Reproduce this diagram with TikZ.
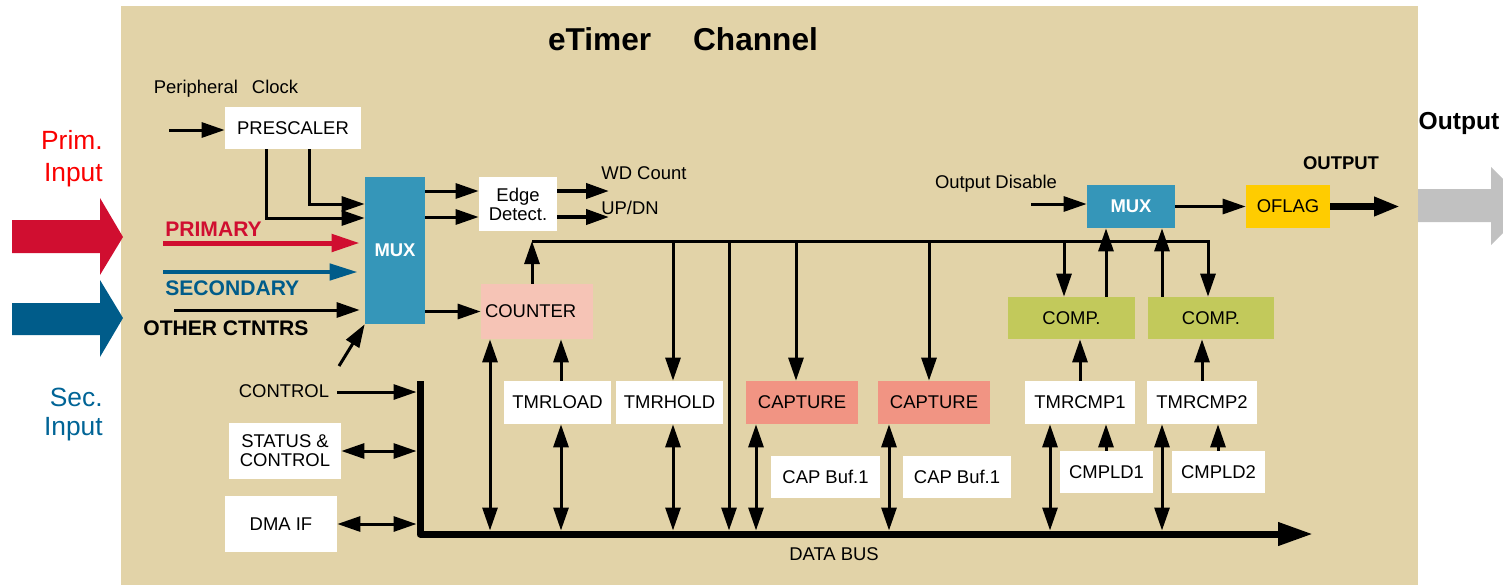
\documentclass[tikz,border=0pt]{standalone}
\usepackage{fontspec}
\setmainfont{Liberation Sans}
\usetikzlibrary{arrows.meta}
\definecolor{tanbg}{RGB}{226,211,168}
\definecolor{muxblue}{RGB}{53,150,185}
\definecolor{cntpink}{RGB}{246,196,182}
\definecolor{capsalmon}{RGB}{241,148,131}
\definecolor{compgreen}{RGB}{194,201,91}
\definecolor{oflagyellow}{RGB}{255,204,0}
\definecolor{primred}{RGB}{208,14,48}
\definecolor{secblue}{RGB}{0,92,138}
\definecolor{txtred}{RGB}{250,0,0}
\definecolor{txtblue}{RGB}{0,100,150}
\definecolor{outgray}{RGB}{193,193,193}
\begin{document}
\begin{tikzpicture}[x=0.02cm,y=-0.02cm,
  >={Triangle[length=0.46cm,width=0.3cm]},
  ln/.style={line width=0.06cm},
  txt/.style={inner sep=0pt, font=\fontsize{10.5}{12}\selectfont},
  boldtxt/.style={inner sep=0pt, font=\fontsize{12}{14}\selectfont\bfseries},
  box/.style={inner sep=0pt, align=center, font=\fontsize{10.5}{10.8}\selectfont},
  wbox/.style={box, fill=white},
  muxbox/.style={box, fill=muxblue, text=white, font=\fontsize{10.5}{12}\selectfont\bfseries},
  capbox/.style={box, fill=capsalmon},
  compbox/.style={box, fill=compgreen},
]
\useasboundingbox (0,0) rectangle (1503,585);
% background
\fill[tanbg] (121,6) rectangle (1418,585);

% big input arrows
\fill[primred] (12,220) -- (100,220) -- (100,198) -- (123,237) -- (100,275) -- (100,253) -- (12,253) -- cycle;
\fill[secblue] (12,303) -- (100,303) -- (100,280) -- (123,318) -- (100,357) -- (100,335) -- (12,335) -- cycle;
% output arrow
\fill[outgray] (1418,189) -- (1491,189) -- (1491,167) -- (1503,179) -- (1503,233) -- (1491,245) -- (1491,222) -- (1418,222) -- cycle;

% side texts
\node[inner sep=0pt, align=right, anchor=east, text=txtred, font=\fontsize{15}{18.2}\selectfont] (primin) at (103,159) {Prim.\\Input};
\node[inner sep=0pt, align=right, anchor=east, text=txtblue, font=\fontsize{15}{16.5}\selectfont] (secin) at (103,415) {Sec.\\Input};
\node[inner sep=0pt, font=\fontsize{14}{16}\selectfont\bfseries] (outlbl) at (1459,123) {Output};

% title
\node[inner sep=0pt, font=\fontsize{18}{20}\selectfont\bfseries] (title) at (683,39) {eTimer\hspace{0.84cm}Channel};

% labels
\node[txt] (perclk) at (226,89) {Peripheral\hspace{0.28cm}Clock};
\node[boldtxt, anchor=west, text=primred] (primlbl) at (165,229) {PRIMARY};
\node[boldtxt, anchor=west, text=secblue] (seclbl) at (165,288) {SECONDARY};
\node[boldtxt, anchor=west] (othlbl) at (143,328) {OTHER CTNTRS};
\node[txt] (ctrllbl) at (284,391) {CONTROL};
\node[txt, anchor=west] (wdlbl) at (601,173) {WD Count};
\node[txt, anchor=west] (udlbl) at (601,208) {UP/DN};
\node[txt] (odlbl) at (996,184) {Output Disable};
\node[txt, font=\fontsize{10.5}{12}\selectfont\bfseries] (outputlbl) at (1341,163) {OUTPUT};
\node[txt] (dblbl) at (834,554) {DATA BUS};

% boxes
\node[wbox, minimum width=2.72cm, minimum height=0.84cm] (pre) at (293,128) {PRESCALER};
\node[muxbox, minimum width=1.2cm, minimum height=2.94cm] (mux) at (395,250.5) {MUX};
\node[wbox, minimum width=1.56cm, minimum height=1.08cm] (edge) at (518,204) {Edge\\Detect.};
\node[box, fill=cntpink, minimum height=1.1cm, text width=2.08cm, inner xsep=0.08cm, align=left] (counter) at (537,311.5) {COUNTER};
\node[wbox, minimum width=2.14cm, minimum height=0.86cm] (tmrload) at (557.5,402.5) {TMRLOAD};
\node[wbox, minimum width=2.14cm, minimum height=0.86cm] (tmrhold) at (669.5,402.5) {TMRHOLD};
\node[capbox, minimum width=2.24cm, minimum height=0.86cm] (cap1) at (802,402.5) {CAPTURE};
\node[capbox, minimum width=2.24cm, minimum height=0.86cm] (cap2) at (934,402.5) {CAPTURE};
\node[wbox, minimum width=2.18cm, minimum height=0.84cm] (capbuf1) at (825.5,477) {CAP Buf.1};
\node[wbox, minimum width=2.16cm, minimum height=0.84cm] (capbuf2) at (957,477) {CAP Buf.1};
\node[wbox, minimum width=2.2cm, minimum height=0.86cm] (tmrcmp1) at (1080,402.5) {TMRCMP1};
\node[wbox, minimum width=2.2cm, minimum height=0.86cm] (tmrcmp2) at (1202,402.5) {TMRCMP2};
\node[wbox, minimum width=1.86cm, minimum height=0.84cm] (cmpld1) at (1106.5,472) {CMPLD1};
\node[wbox, minimum width=1.86cm, minimum height=0.84cm] (cmpld2) at (1218.5,472) {CMPLD2};
\node[compbox, minimum width=2.54cm, minimum height=0.84cm] (comp1) at (1071.5,318) {COMP.};
\node[compbox, minimum width=2.52cm, minimum height=0.84cm] (comp2) at (1211,318) {COMP.};
\node[muxbox, minimum width=1.76cm, minimum height=0.86cm] (mux2) at (1131,206.5) {MUX};
\node[box, fill=oflagyellow, minimum width=1.68cm, minimum height=0.86cm] (oflag) at (1288,206.5) {OFLAG};
\node[wbox, minimum width=2.24cm, minimum height=1.12cm] (status) at (285,451) {STATUS \&\\CONTROL};
\node[wbox, minimum width=2.24cm, minimum height=1.12cm] (dma) at (281,524) {DMA IF};

% helper coordinates
\coordinate (clkS) at (169,130);
\coordinate (p1) at (266,218);
\coordinate (p2) at (309,204);
\coordinate (prS) at (163,243);
\coordinate (seS) at (163,272);
\coordinate (otS) at (174,310);
\coordinate (diagS) at (339,366);
\coordinate (e1) at (0,191);
\coordinate (e2) at (0,217);
\coordinate (wd) at (609,191);
\coordinate (ud) at (609,217);
\coordinate (busL) at (532,241);
\coordinate (busR) at (1208,241);
\coordinate (dbT) at (420,381);
\coordinate (dbC) at (420,534);
\coordinate (dbE) at (1313,534);
\coordinate (dbTop) at (0,530.5);
\coordinate (dbLeft) at (416.5,0);
\coordinate (ctrlA) at (337,392);
\coordinate (odS) at (1031,204);
\coordinate (outE) at (1400,206.5);
\foreach \xx in {490,561,673,729,756,796,889,929,1050,1064,1080,1106,1162,1202,1218}
  \coordinate (c\xx) at (\xx,0);

% prescaler and MUX inputs
\draw[ln,->] (clkS) -- (clkS -| pre.west);
\draw[ln,->] (pre.south -| p1) -- (p1) -- (p1 -| mux.west);
\draw[ln,->] (pre.south -| p2) -- (p2) -- (p2 -| mux.west);
\draw[line width=0.1cm, primred, -{Triangle[length=0.56cm,width=0.34cm]}, shorten >=0.1cm] (prS) -- (prS -| mux.west);
\draw[line width=0.09cm, secblue, -{Triangle[length=0.56cm,width=0.32cm]}, shorten >=0.14cm] (seS) -- (seS -| mux.west);
\draw[ln,->, shorten >=0.1cm] (otS) -- (otS -| mux.west);
\draw[ln,->] (diagS) -- (mux.south west);

% MUX outputs
\draw[ln,->] (mux.east |- e1) -- (edge.west |- e1);
\draw[ln,->] (mux.east |- e2) -- (edge.west |- e2);
\draw[line width=0.08cm,->] (edge.east |- e1) -- (wd);
\draw[line width=0.08cm,->] (edge.east |- e2) -- (ud);
\draw[ln,->] (mux.east |- counter.west) -- (counter.west);

% internal bus
\draw[ln,->] (counter.north -| busL) -- (busL);
\draw[ln,->] (busL) -- (busR) -- (busR |- comp2.north);
\draw[ln,->] (c673 |- busL) -- (c673 |- tmrhold.north);
\draw[ln,->] (c729 |- busL) -- (c729 |- dbTop);
\draw[ln,->] (c796 |- busL) -- (c796 |- cap1.north);
\draw[ln,->] (c929 |- busL) -- (c929 |- cap2.north);
\draw[ln,->] (c1064 |- busL) -- (c1064 |- comp1.north);

% compare / output path
\draw[ln,->] (c1106 |- comp1.north) -- (c1106 |- mux2.south);
\draw[ln,->] (c1162 |- comp2.north) -- (c1162 |- mux2.south);
\draw[ln,->] (c1080 |- tmrcmp1.north) -- (c1080 |- comp1.south);
\draw[ln,->] (c1202 |- tmrcmp2.north) -- (c1202 |- comp2.south);
\draw[ln,->] (c1106 |- cmpld1.north) -- (c1106 |- tmrcmp1.south);
\draw[ln,->] (c1218 |- cmpld2.north) -- (c1218 |- tmrcmp2.south);
\draw[ln,->] (odS) -- (odS -| mux2.west);
\draw[ln,->] (mux2.east) -- (oflag.west);
\draw[line width=0.14cm, -{Triangle[length=0.52cm,width=0.36cm]}] (oflag.east) -- (outE);

% load path
\draw[ln,->] (c561 |- tmrload.north) -- (c561 |- counter.south);

% data bus connections
\draw[ln,<->] (c490 |- counter.south) -- (c490 |- dbTop);
\draw[ln,<->] (c561 |- tmrload.south) -- (c561 |- dbTop);
\draw[ln,<->] (c673 |- tmrhold.south) -- (c673 |- dbTop);
\draw[ln,<->] (c756 |- cap1.south) -- (c756 |- dbTop);
\draw[ln,<->] (c889 |- cap2.south) -- (c889 |- dbTop);
\draw[ln,<->] (c1050 |- tmrcmp1.south) -- (c1050 |- dbTop);
\draw[ln,<->] (c1162 |- tmrcmp2.south) -- (c1162 |- dbTop);

% control side
\draw[ln,->] (ctrlA) -- (ctrlA -| dbLeft);
\draw[ln,<->] (status.east) -- (status.east -| dbLeft);
\draw[ln,<->] (dma.east) -- (dma.east -| dbLeft);

% data bus
\draw[line width=0.14cm, line join=round, -{Triangle[length=0.7cm,width=0.44cm]}] (dbT) -- (dbC) -- (dbE);
\end{tikzpicture}
\end{document}
